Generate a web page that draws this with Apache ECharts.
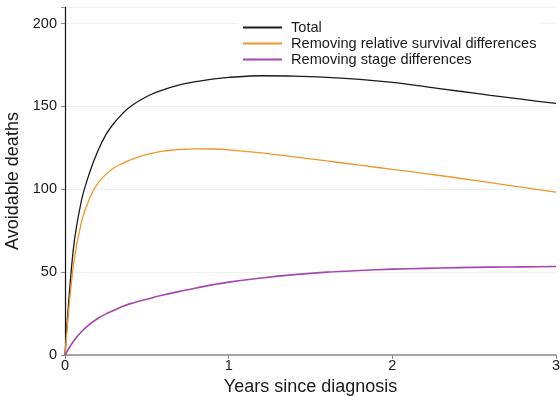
<!DOCTYPE html>
<html><head><meta charset="utf-8">
<script src="https://cdn.jsdelivr.net/npm/echarts@6/dist/echarts.min.js"></script>
<style>html,body{margin:0;padding:0;background:#fff}#c{width:560px;height:396px}</style>
</head><body><div id="c"></div>
<script>
const years = [0,0.05,0.1,0.15,0.2,0.25,0.3,0.35,0.4,0.5,0.6,0.7,0.8,0.9,1.0,1.2,1.4,1.6,1.8,2.0,2.2,2.4,2.6,2.8,3.0];
const total = [0,63,93,110,123,133,140,145.5,150,156,160,163,165,166.5,167.5,168.5,168.3,167.5,166.3,164.5,162,159.3,156.7,154.2,151.8];
const removingSurvival = [0,53,80,94.5,103.5,109,113,115.5,117.8,121,123,124,124.4,124.3,123.8,122,119.6,117.1,114.6,112,109.5,106.8,104,101.1,98.3];
const removingStage = [0,8,14,18.5,22,24.8,27,29.2,31,33.7,36.2,38.4,40.4,42.3,44,46.5,48.5,50,51,51.8,52.3,52.7,53,53.2,53.4];
const seriesNames = ['Total','Removing relative survival differences','Removing stage differences'];
const xTicks = [0,1,2,3];
const yTicks = [0,50,100,150,200];

const pair = arr => years.map((x,i)=>[x,arr[i]]);
const chart = echarts.init(document.getElementById('c'));
const font = 'Liberation Sans, Arial, sans-serif';
chart.setOption({
  animation:false,
  textStyle:{fontFamily:font},
  grid:{left:65,right:4,top:7,bottom:41,containLabel:false,outerBoundsMode:'none'},
  legend:{
    orient:'vertical', left:237, top:18, itemWidth:39, itemHeight:2, itemGap:1,
    padding:[2,4,2,6], backgroundColor:'#fff',
    icon:'rect',
    textStyle:{fontSize:14.6,color:'#1a1a1a',fontFamily:font,padding:[0,0,0,4],lineHeight:14},
    data:seriesNames
  },
  xAxis:{
    type:'value', min:0, max:3, interval:1,
    name:'Years since diagnosis', nameLocation:'middle', nameGap:23,
    nameTextStyle:{fontSize:18,color:'#1a1a1a',fontFamily:font},
    axisLine:{show:true,lineStyle:{color:'#8a8a8a',width:1.5}},
    axisTick:{show:true,length:4,lineStyle:{color:'#8a8a8a'}},
    axisLabel:{fontSize:14.5,color:'#1a1a1a',margin:3,formatter:v=>xTicks.includes(v)?String(v):''},
    splitLine:{show:false}
  },
  yAxis:{
    type:'value', min:0, max:210, interval:50,
    name:'Avoidable deaths', nameLocation:'middle', nameGap:41, nameRotate:90,
    nameTextStyle:{fontSize:18,color:'#1a1a1a',fontFamily:font},
    axisLine:{show:true,lineStyle:{color:'#111',width:1.2}},
    axisTick:{show:true,length:4,lineStyle:{color:'#8a8a8a'}},
    axisLabel:{fontSize:14.5,color:'#1a1a1a',margin:8,formatter:v=>yTicks.includes(v)?String(v):''},
    splitLine:{show:true,lineStyle:{color:'#eaf2f2',width:1}}
  },
  series:[
    {name:seriesNames[0],type:'line',data:pair(total),showSymbol:false,smooth:0.35,lineStyle:{color:'#1a1a1a',width:1.3},itemStyle:{color:'#1a1a1a'}},
    {name:seriesNames[1],type:'line',data:pair(removingSurvival),showSymbol:false,smooth:0.35,lineStyle:{color:'#f0962a',width:1.3},itemStyle:{color:'#f0962a'}},
    {name:seriesNames[2],type:'line',data:pair(removingStage),showSymbol:false,smooth:0.35,lineStyle:{color:'#a347ad',width:1.6},itemStyle:{color:'#a347ad'}}
  ]
});
</script></body></html>
